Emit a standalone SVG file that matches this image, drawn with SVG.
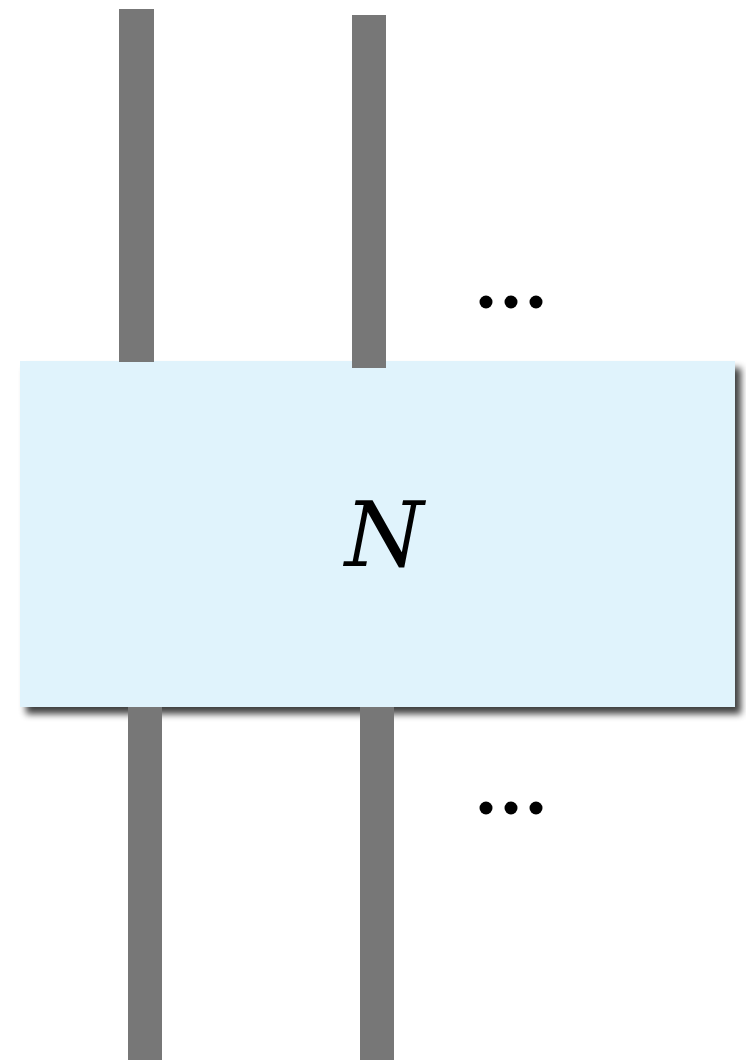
<svg xmlns="http://www.w3.org/2000/svg" width="746" height="1064" viewBox="0 0 746 1064">
<defs>
<style>
.wire{fill:#777777}
.dot{fill:#000}
.lbl{font-family:"DejaVu Serif","Liberation Serif",serif;font-style:italic;font-size:90px;fill:#000}
</style>
<filter id="sh" x="-10%" y="-10%" width="120%" height="130%">
<feGaussianBlur in="SourceAlpha" stdDeviation="3.5"/>
<feOffset dx="6" dy="7" result="b"/>
<feComponentTransfer><feFuncA type="linear" slope="0.75"/></feComponentTransfer>
<feMerge><feMergeNode/><feMergeNode in="SourceGraphic"/></feMerge>
</filter>
</defs>
<g id="node-N">
<rect x="20" y="361" width="715" height="346" fill="#e0f3fc" filter="url(#sh)"/>
<text class="lbl" x="384" y="566" text-anchor="middle">N</text>
</g>
<g id="connectors">
<rect class="wire" x="119" y="9" width="35" height="353"/>
<rect class="wire" x="352" y="15" width="34" height="353"/>
<rect class="wire" x="128" y="707" width="34" height="353"/>
<rect class="wire" x="360" y="707" width="34" height="353"/>
</g>
<g id="dots-top">
<circle class="dot" cx="486" cy="302" r="6.5"/>
<circle class="dot" cx="511" cy="302" r="6.5"/>
<circle class="dot" cx="536" cy="302" r="6.5"/>
</g>
<g id="dots-bottom">
<circle class="dot" cx="486" cy="808" r="6.5"/>
<circle class="dot" cx="511" cy="808" r="6.5"/>
<circle class="dot" cx="536" cy="808" r="6.5"/>
</g>
</svg>
